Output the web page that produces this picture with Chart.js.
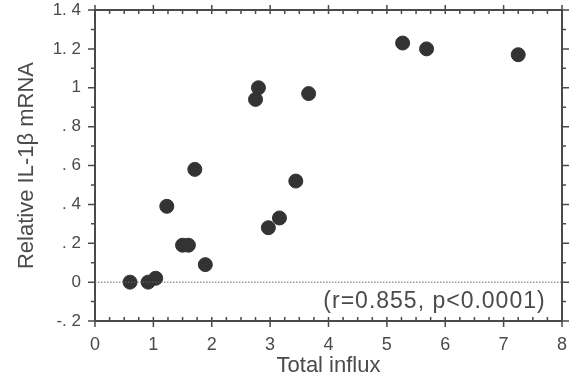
<!DOCTYPE html>
<html>
<head>
<meta charset="utf-8">
<script src="https://cdn.jsdelivr.net/npm/chart.js@4.4.1/dist/chart.umd.min.js"></script>
<style>
	html, body { margin: 0; padding: 0; background: #fff; }
	#wrap { width: 582px; height: 387px; }
</style>
</head>
<body>
<div id="wrap"><canvas id="chart" width="582" height="387"></canvas></div>
<script>
const influx = [0.60, 0.91, 1.04, 1.23, 1.50, 1.60, 1.71, 1.89, 2.75, 2.80, 2.97, 3.16, 3.44, 3.66, 5.27, 5.68, 7.25];
const il1b   = [0.00, 0.00, 0.02, 0.39, 0.19, 0.19, 0.58, 0.09, 0.94, 1.00, 0.28, 0.33, 0.52, 0.97, 1.23, 1.20, 1.17];
const yTickLabels = ['-. 2', '0', '. 2', '. 4', '. 6', '. 8', '1', '1. 2', '1. 4'];
const xTickLabels = ['0', '1', '2', '3', '4', '5', '6', '7', '8'];
const statsNote = '(r=0.855, p<0.0001)';

const ink = '#4a4a4a';
const tickFont = { family: "'Liberation Sans Narrow', 'Liberation Sans', Arial, sans-serif", size: 17 };
const xTickFont = { family: "'Liberation Sans Narrow', 'Liberation Sans', Arial, sans-serif", size: 18 };
const titleFont = { family: "'Liberation Sans', Arial, sans-serif", size: 22 };

// frame, ticks on all four sides, dotted zero line, stats note
const framePlugin = {
	id: 'frame',
	afterDraw(chart) {
		const { ctx, chartArea: a, scales: { x, y } } = chart;
		ctx.save();
		ctx.strokeStyle = ink;
		ctx.lineWidth = 2;
		ctx.strokeRect(a.left, a.top, a.right - a.left, a.bottom - a.top);

		ctx.lineWidth = 1.5;
		ctx.beginPath();
		for (let i = 0; i <= 32; i++) {
			const px = x.getPixelForValue(i * 0.25);
			if (i % 4 === 0) {
				ctx.moveTo(px, a.bottom - 4); ctx.lineTo(px, a.bottom + 6);
				ctx.moveTo(px, a.top - 5); ctx.lineTo(px, a.top + 4);
			} else {
				ctx.moveTo(px, a.bottom); ctx.lineTo(px, a.bottom - 4);
				ctx.moveTo(px, a.top); ctx.lineTo(px, a.top + 4);
			}
		}
		for (let i = 0; i <= 16; i++) {
			const py = y.getPixelForValue(-0.2 + i * 0.1);
			const len = i % 2 === 0 ? 7 : 4;
			ctx.moveTo(a.left, py); ctx.lineTo(a.left - len, py);
			ctx.moveTo(a.right, py); ctx.lineTo(a.right + len, py);
		}
		ctx.stroke();

		const zy = y.getPixelForValue(0);
		ctx.setLineDash([1.5, 1.5]);
		ctx.lineWidth = 1;
		ctx.strokeStyle = '#666';
		ctx.beginPath();
		ctx.moveTo(a.left, zy); ctx.lineTo(a.right, zy);
		ctx.stroke();
		ctx.setLineDash([]);

		ctx.fillStyle = ink;
		ctx.font = "23px 'Liberation Sans', Arial, sans-serif";
		ctx.letterSpacing = '1px';
		ctx.textAlign = 'right';
		ctx.textBaseline = 'middle';
		ctx.fillText(statsNote, x.getPixelForValue(7.72), y.getPixelForValue(-0.1));
		ctx.restore();
	}
};

new Chart(document.getElementById('chart'), {
	type: 'scatter',
	data: {
		datasets: [{
			data: influx.map((v, i) => ({ x: v, y: il1b[i] })),
			backgroundColor: '#333',
			borderColor: '#333',
			pointRadius: 7,
			pointHoverRadius: 7
		}]
	},
	options: {
		responsive: false,
		animation: false,
		layout: { padding: { top: 10, right: 20, left: 0, bottom: 0 } },
		plugins: { legend: { display: false }, tooltip: { enabled: false } },
		scales: {
			x: {
				min: 0, max: 8,
				afterFit: s => { s.height = 66; s.paddingLeft = 0; s.paddingRight = 0; },
				grid: { drawOnChartArea: false, drawTicks: false },
				border: { display: false },
				ticks: {
					stepSize: 1, padding: 13, color: ink, font: xTickFont,
					maxRotation: 0,
					callback: (v, i) => xTickLabels[i]
				},
				title: { display: true, text: 'Total influx', color: ink, font: titleFont, padding: { top: 0, bottom: 8 } }
			},
			y: {
				min: -0.2, max: 1.4,
				afterFit: s => { s.width = 95; s.paddingTop = 0; s.paddingBottom = 0; },
				grid: { drawOnChartArea: false, drawTicks: false },
				border: { display: false },
				ticks: {
					stepSize: 0.2, padding: 14, color: ink, font: tickFont,
					callback: (v, i) => yTickLabels[i]
				},
				title: { display: true, text: 'Relative IL-1β mRNA', color: ink, font: titleFont, padding: { top: 14, bottom: 0 } }
			}
		}
	},
	plugins: [framePlugin]
});
</script>
</body>
</html>
